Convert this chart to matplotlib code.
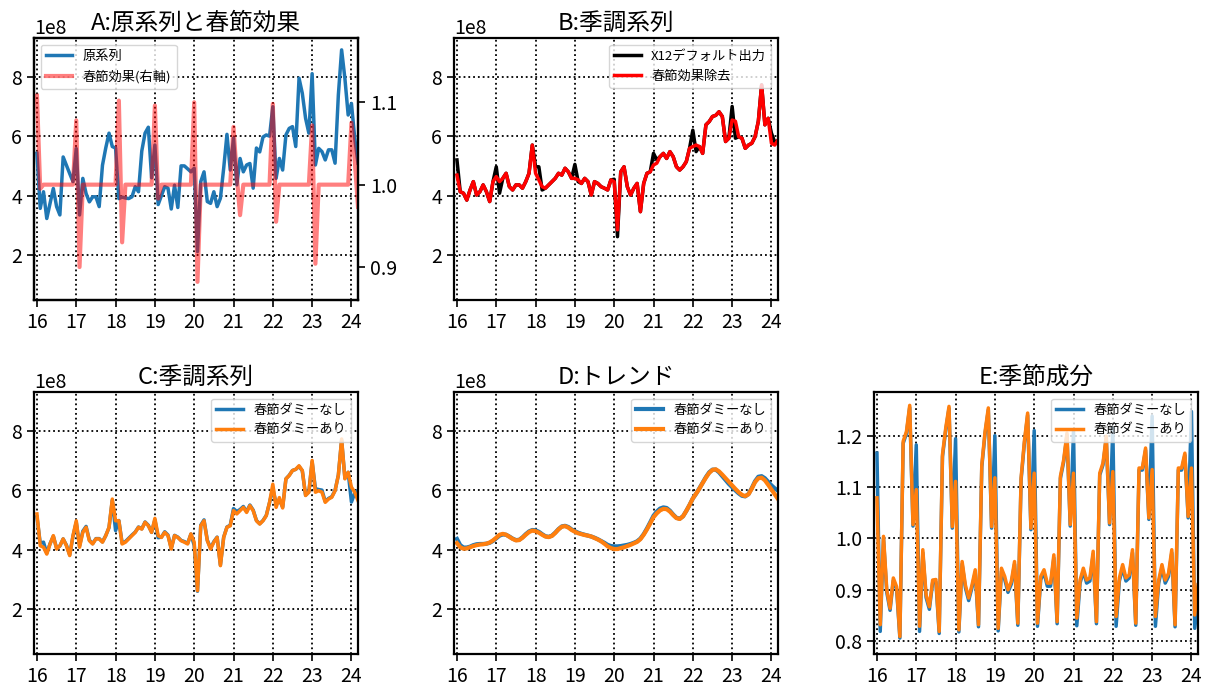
import numpy as np
import matplotlib
matplotlib.use("Agg")
import matplotlib.pyplot as plt

plt.rcParams['font.family'] = ['Noto Sans CJK JP', 'DejaVu Sans']

# ---- data (monthly, 2016-01 .. 2024-03); level series in units of 1e8 ----
start_year = 2016
n_months = 99
year_ticks = [2016, 2017, 2018, 2019, 2020, 2021, 2022, 2023, 2024]
year_labels = ['16', '17', '18', '19', '20', '21', '22', '23', '24']

original = [5.42, 3.57, 4.13, 3.23, 3.74, 4.24, 3.63, 3.35, 5.30, 5.02, 4.74, 4.47,
            5.58, 3.35, 4.58, 4.07, 3.79, 3.96, 3.96, 3.63, 5.02, 5.60, 6.10, 5.65,
            5.60, 3.90, 3.95, 3.92, 3.90, 3.96, 4.30, 4.13, 5.50, 6.10, 6.30, 4.60,
            5.70, 3.70, 4.00, 4.30, 4.25, 3.55, 4.35, 3.60, 5.00, 5.00, 4.90, 4.80,
            4.92, 2.12, 4.47, 4.80, 3.80, 3.74, 4.13, 3.63, 3.91, 4.92, 6.06, 4.86,
            5.93, 4.36, 5.25, 4.80, 5.03, 5.08, 4.25, 5.60, 5.47, 5.97, 6.04, 6.00,
            6.99, 4.58, 5.25, 4.86, 6.04, 6.26, 6.32, 5.65, 7.95, 7.44, 6.60, 6.10,
            8.10, 5.03, 5.59, 5.48, 5.20, 5.54, 5.54, 5.09, 7.38, 8.90, 7.94, 6.71,
            7.10, 5.93, 5.09]

cny_effect = [1.108, 0.995, 1.0, 1.0, 1.0, 1.0, 1.0, 1.0, 1.0, 1.0, 1.0, 1.0,
              1.078, 0.900, 1.0, 1.0, 1.0, 1.0, 1.0, 1.0, 1.0, 1.0, 1.0, 1.0,
              1.0, 1.102, 0.930, 1.0, 1.0, 1.0, 1.0, 1.0, 1.0, 1.0, 1.0, 1.0,
              1.096, 0.983, 1.0, 1.0, 1.0, 1.0, 1.0, 1.0, 1.0, 1.0, 1.0, 1.0,
              1.100, 0.882, 1.0, 1.0, 1.0, 1.0, 1.0, 1.0, 1.0, 1.0, 1.0, 1.0,
              1.070, 1.010, 0.963, 1.0, 1.0, 1.0, 1.0, 1.0, 1.0, 1.0, 1.0, 1.0,
              1.098, 0.955, 1.0, 1.0, 1.0, 1.0, 1.0, 1.0, 1.0, 1.0, 1.0, 1.0,
              1.072, 0.904, 1.0, 1.0, 1.0, 1.0, 1.0, 1.0, 1.0, 1.0, 1.0, 1.0,
              1.075, 1.030, 0.973]

sa_x12_default = [5.20, 4.13, 4.08, 3.85, 4.19, 4.47, 4.02, 4.13, 4.36, 4.13, 3.80, 4.47,
                  4.97, 4.08, 4.58, 4.75, 4.30, 4.19, 4.36, 4.36, 4.25, 4.47, 4.75, 5.70,
                  4.97, 4.97, 4.19, 4.25, 4.36, 4.47, 4.58, 4.75, 4.69, 4.92, 4.80, 4.58,
                  5.05, 4.47, 4.41, 4.58, 4.47, 4.02, 4.47, 4.41, 4.30, 4.25, 4.19, 4.53,
                  4.55, 2.62, 4.80, 4.97, 4.30, 4.02, 4.25, 4.41, 3.46, 4.41, 4.75, 4.80,
                  5.42, 5.20, 5.31, 5.42, 5.25, 5.48, 5.31, 4.97, 4.86, 4.97, 5.14, 5.59,
                  6.20, 5.48, 5.65, 5.42, 6.38, 6.49, 6.66, 6.70, 6.82, 6.66, 5.82, 5.93,
                  7.00, 5.93, 5.98, 5.93, 5.59, 5.70, 5.76, 5.98, 6.50, 7.72, 6.38, 6.60,
                  6.10, 5.80, 5.85]

sa_cny_removed = [4.69, 4.13, 4.08, 3.85, 4.19, 4.47, 4.02, 4.13, 4.36, 4.13, 3.80, 4.47,
                  4.64, 4.47, 4.58, 4.75, 4.30, 4.19, 4.36, 4.36, 4.25, 4.47, 4.75, 5.70,
                  4.75, 4.53, 4.30, 4.25, 4.36, 4.47, 4.58, 4.75, 4.69, 4.92, 4.80, 4.58,
                  4.58, 4.53, 4.41, 4.58, 4.47, 4.02, 4.47, 4.41, 4.30, 4.25, 4.19, 4.53,
                  4.47, 2.85, 4.80, 4.97, 4.30, 4.02, 4.25, 4.41, 3.46, 4.41, 4.75, 4.80,
                  5.03, 5.09, 5.31, 5.42, 5.25, 5.48, 5.31, 4.97, 4.86, 4.97, 5.14, 5.59,
                  5.65, 5.70, 5.65, 5.42, 6.38, 6.49, 6.66, 6.70, 6.82, 6.66, 5.82, 5.93,
                  6.54, 6.50, 5.98, 5.93, 5.59, 5.70, 5.76, 5.98, 6.50, 7.72, 6.38, 6.60,
                  5.76, 5.70, 5.87]

sa_no_dummy = [5.10, 4.22, 4.25, 3.88, 4.20, 4.45, 4.05, 4.12, 4.36, 4.15, 3.82, 4.45,
               4.92, 4.12, 4.62, 4.78, 4.32, 4.20, 4.37, 4.37, 4.26, 4.47, 4.74, 5.66,
               4.64, 4.98, 4.22, 4.27, 4.38, 4.49, 4.59, 4.76, 4.70, 4.93, 4.82, 4.58,
               5.00, 4.40, 4.42, 4.60, 4.49, 4.04, 4.48, 4.42, 4.31, 4.27, 4.21, 4.52,
               4.14, 2.60, 4.82, 5.00, 4.32, 4.05, 4.27, 4.42, 3.48, 4.42, 4.76, 4.82,
               5.38, 5.28, 5.35, 5.45, 5.28, 5.50, 5.33, 4.98, 4.87, 4.98, 5.15, 5.58,
               6.05, 5.55, 5.67, 5.43, 6.38, 6.50, 6.66, 6.70, 6.80, 6.65, 5.83, 5.94,
               6.95, 6.05, 6.02, 6.00, 5.62, 5.72, 5.78, 5.99, 6.50, 7.68, 6.40, 6.60,
               5.60, 5.90, 6.00]

sa_with_dummy = [5.20, 4.13, 4.08, 3.85, 4.19, 4.47, 4.02, 4.13, 4.36, 4.13, 3.80, 4.47,
                 4.97, 4.08, 4.58, 4.75, 4.30, 4.19, 4.36, 4.36, 4.25, 4.47, 4.75, 5.70,
                 4.97, 4.97, 4.19, 4.25, 4.36, 4.47, 4.58, 4.75, 4.69, 4.92, 4.80, 4.58,
                 5.05, 4.47, 4.41, 4.58, 4.47, 4.02, 4.47, 4.41, 4.30, 4.25, 4.19, 4.53,
                 4.25, 2.62, 4.80, 4.97, 4.30, 4.02, 4.25, 4.41, 3.46, 4.41, 4.75, 4.80,
                 5.31, 5.20, 5.31, 5.42, 5.25, 5.48, 5.31, 4.97, 4.86, 4.97, 5.14, 5.59,
                 6.20, 5.42, 5.75, 5.40, 6.38, 6.49, 6.66, 6.70, 6.82, 6.66, 5.82, 5.93,
                 7.00, 5.93, 5.98, 5.93, 5.59, 5.70, 5.76, 5.98, 6.50, 7.72, 6.38, 6.60,
                 6.10, 5.93, 5.65]

trend_no_dummy = [4.36, 4.15, 4.07, 4.07, 4.10, 4.15, 4.18, 4.19, 4.19, 4.20, 4.23, 4.29,
                  4.38, 4.47, 4.51, 4.50, 4.44, 4.37, 4.32, 4.33, 4.41, 4.52, 4.61, 4.66,
                  4.65, 4.60, 4.52, 4.45, 4.43, 4.47, 4.57, 4.69, 4.78, 4.80, 4.76, 4.68,
                  4.62, 4.57, 4.53, 4.50, 4.47, 4.44, 4.40, 4.35, 4.29, 4.23, 4.16, 4.12,
                  4.11, 4.11, 4.12, 4.14, 4.16, 4.19, 4.23, 4.28, 4.37, 4.52, 4.71, 4.92,
                  5.14, 5.28, 5.38, 5.42, 5.40, 5.31, 5.18, 5.07, 5.04, 5.12, 5.30, 5.50,
                  5.72, 5.88, 6.06, 6.25, 6.44, 6.60, 6.69, 6.69, 6.60, 6.47, 6.34, 6.21,
                  6.10, 5.99, 5.89, 5.81, 5.79, 5.87, 6.07, 6.30, 6.45, 6.47, 6.40, 6.28,
                  6.16, 6.06, 5.98]

trend_with_dummy = [4.22, 4.08, 4.03, 4.04, 4.08, 4.12, 4.15, 4.17, 4.18, 4.20, 4.24, 4.31,
                    4.40, 4.50, 4.53, 4.50, 4.43, 4.36, 4.31, 4.32, 4.40, 4.50, 4.59, 4.64,
                    4.62, 4.57, 4.50, 4.44, 4.42, 4.46, 4.56, 4.68, 4.77, 4.79, 4.74, 4.66,
                    4.60, 4.55, 4.52, 4.49, 4.47, 4.44, 4.39, 4.34, 4.28, 4.20, 4.11, 4.05,
                    4.02, 4.02, 4.05, 4.08, 4.12, 4.16, 4.21, 4.26, 4.35, 4.50, 4.68, 4.88,
                    5.09, 5.22, 5.32, 5.37, 5.36, 5.28, 5.16, 5.06, 5.03, 5.12, 5.30, 5.50,
                    5.72, 5.88, 6.05, 6.24, 6.42, 6.58, 6.68, 6.70, 6.63, 6.52, 6.40, 6.28,
                    6.16, 6.04, 5.93, 5.84, 5.80, 5.86, 6.05, 6.27, 6.40, 6.42, 6.33, 6.18,
                    6.02, 5.86, 5.70]

seasonal_no_dummy = [1.166, 0.819, 1.000, 0.895, 0.860, 0.918, 0.902, 0.806, 1.185, 1.204, 1.255, 1.024,
                     1.182, 0.819, 0.972, 0.885, 0.862, 0.914, 0.915, 0.815, 1.159, 1.211, 1.253, 1.020,
                     1.194, 0.818, 0.950, 0.904, 0.879, 0.904, 0.934, 0.828, 1.139, 1.204, 1.250, 1.020,
                     1.200, 0.820, 0.936, 0.920, 0.895, 0.911, 0.950, 0.831, 1.114, 1.185, 1.240, 1.017,
                     1.210, 0.829, 0.920, 0.933, 0.907, 0.907, 0.962, 0.834, 1.117, 1.149, 1.201, 1.024,
                     1.210, 0.830, 0.913, 0.936, 0.913, 0.917, 0.969, 0.834, 1.123, 1.143, 1.195, 1.027,
                     1.215, 0.829, 0.917, 0.943, 0.917, 0.923, 0.972, 0.831, 1.133, 1.133, 1.172, 1.037,
                     1.238, 0.829, 0.913, 0.943, 0.913, 0.926, 0.972, 0.828, 1.133, 1.133, 1.162, 1.040,
                     1.247, 0.825, 0.880]

seasonal_with_dummy = [1.079, 0.832, 1.004, 0.900, 0.864, 0.923, 0.906, 0.809, 1.189, 1.208, 1.259, 1.027,
                       1.095, 0.829, 0.978, 0.890, 0.867, 0.919, 0.920, 0.819, 1.163, 1.215, 1.257, 1.023,
                       1.111, 0.822, 0.955, 0.909, 0.884, 0.909, 0.939, 0.832, 1.143, 1.208, 1.254, 1.023,
                       1.118, 0.825, 0.942, 0.926, 0.900, 0.916, 0.955, 0.835, 1.118, 1.189, 1.244, 1.020,
                       1.127, 0.835, 0.926, 0.939, 0.913, 0.913, 0.968, 0.838, 1.121, 1.153, 1.205, 1.027,
                       1.127, 0.845, 0.919, 0.942, 0.919, 0.923, 0.975, 0.838, 1.127, 1.147, 1.199, 1.030,
                       1.130, 0.848, 0.923, 0.949, 0.923, 0.929, 0.978, 0.835, 1.137, 1.137, 1.176, 1.040,
                       1.134, 0.848, 0.919, 0.949, 0.919, 0.932, 0.978, 0.832, 1.137, 1.137, 1.166, 1.043,
                       1.137, 0.851, 0.910]

labels_a = ['原系列', '春節効果(右軸)']
labels_b = ['X12デフォルト出力', '春節効果除去']
labels_dummy = ['春節ダミーなし', '春節ダミーあり']
titles = ['A:原系列と春節効果', 'B:季調系列', 'C:季調系列', 'D:トレンド', 'E:季節成分']

# ---- figure ----
t = start_year + np.arange(n_months) / 12.0
scale = 1e8

W, H = 1217, 693
fig = plt.figure(figsize=(W / 100, H / 100), dpi=100)


def pos(l, top, w=324, h=262):
    return [l / W, 1 - (top + h) / H, w / W, h / H]


TICK_FS = 14
TITLE_FS = 17
LEG_FS = 9.5
LW = 2.5
BLUE = '#1f77b4'
ORANGE = '#ff7f0e'


def style(ax):
    ax.set_xlim(start_year - 0.9 / 12, start_year + (n_months - 1) / 12)
    ax.set_xticks(year_ticks)
    ax.set_xticklabels(year_labels)
    ax.grid(True, color='black', linestyle=':', linewidth=1.3)
    ax.tick_params(labelsize=TICK_FS, length=5, width=1.2)
    for s in ax.spines.values():
        s.set_linewidth(1.6)
    ax.yaxis.get_offset_text().set_fontsize(TICK_FS)


def style_level(ax):
    style(ax)
    ax.set_ylim(0.49 * scale, 9.30 * scale)
    ax.set_yticks(np.array([2, 4, 6, 8]) * scale)


# A
axA = fig.add_axes(pos(34, 38))
lA1, = axA.plot(t, np.array(original) * scale, color=BLUE, lw=LW, label=labels_a[0])
style_level(axA)
axA.set_title(titles[0], fontsize=TITLE_FS)
axA2 = axA.twinx()
lA2, = axA2.plot(t, cny_effect, color='red', alpha=0.5, lw=3, label=labels_a[1])
axA2.set_ylim(0.86, 1.178)
axA2.set_yticks([0.9, 1.0, 1.1])
axA2.tick_params(labelsize=TICK_FS, length=5, width=1.2)
for s in axA2.spines.values():
    s.set_linewidth(1.6)
axA2.legend([lA1, lA2], labels_a, loc='upper left', fontsize=LEG_FS)

# B
axB = fig.add_axes(pos(454, 38))
axB.plot(t, np.array(sa_x12_default) * scale, color='black', lw=LW, label=labels_b[0])
axB.plot(t, np.array(sa_cny_removed) * scale, color='red', lw=LW, label=labels_b[1])
style_level(axB)
axB.set_title(titles[1], fontsize=TITLE_FS)
axB.legend(loc='upper right', fontsize=LEG_FS)

# C
axC = fig.add_axes(pos(34, 392))
axC.plot(t, np.array(sa_no_dummy) * scale, color=BLUE, lw=LW, label=labels_dummy[0])
axC.plot(t, np.array(sa_with_dummy) * scale, color=ORANGE, lw=LW, label=labels_dummy[1])
style_level(axC)
axC.set_title(titles[2], fontsize=TITLE_FS)
axC.legend(loc='upper right', fontsize=LEG_FS)

# D
axD = fig.add_axes(pos(454, 392))
axD.plot(t, np.array(trend_no_dummy) * scale, color=BLUE, lw=3, label=labels_dummy[0])
axD.plot(t, np.array(trend_with_dummy) * scale, color=ORANGE, lw=3, label=labels_dummy[1])
style_level(axD)
axD.set_title(titles[3], fontsize=TITLE_FS)
axD.legend(loc='upper right', fontsize=LEG_FS)

# E
axE = fig.add_axes(pos(874, 392))
axE.plot(t, seasonal_no_dummy, color=BLUE, lw=LW, label=labels_dummy[0])
axE.plot(t, seasonal_with_dummy, color=ORANGE, lw=LW, label=labels_dummy[1])
style(axE)
axE.set_ylim(0.775, 1.285)
axE.set_yticks([0.8, 0.9, 1.0, 1.1, 1.2])
axE.set_title(titles[4], fontsize=TITLE_FS)
axE.legend(loc='upper right', fontsize=LEG_FS)

fig.savefig('out.png', dpi=100)
